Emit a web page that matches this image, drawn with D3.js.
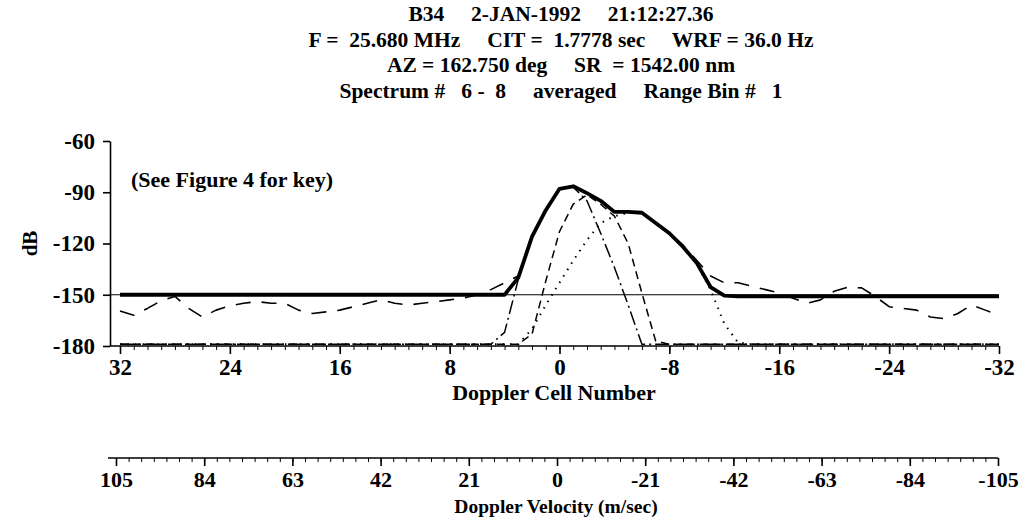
<!DOCTYPE html>
<html>
<head>
<meta charset="utf-8">
<script src="https://cdn.jsdelivr.net/npm/d3@7"></script>
<style>
  body { margin: 0; background: #fff; }
  svg text { font-family: "Liberation Serif", "Times New Roman", serif; font-weight: bold; fill: #000; }
</style>
</head>
<body>
<div id="chart"></div>
<script>
// title lines
const titleLines = [
  "B34     2-JAN-1992     21:12:27.36",
  "F =  25.680 MHz     CIT =  1.7778 sec     WRF = 36.0 Hz",
  "AZ = 162.750 deg     SR  = 1542.00 nm",
  "Spectrum #   6 -  8     averaged     Range Bin #   1"
]

// doppler cells, 32 .. -32
const cells = [32, 31, 30, 29, 28, 27, 26, 25, 24, 23, 22, 21, 20, 19, 18, 17, 16, 15, 14, 13, 12, 11, 10, 9, 8, 7, 6, 5, 4, 3, 2, 1,
  0, -1, -2, -3, -4, -5, -6, -7, -8, -9, -10, -11, -12, -13, -14, -15, -16, -17, -18, -19, -20, -21, -22, -23, -24, -25, -26, -27, -28, -29, -30, -31, -32]

// thick solid
const total = [-150, -150, -150, -150, -150, -150, -150, -150, -150, -150, -150, -150, -150, -150, -150, -150, -150, -150, -150, -150,
  -150, -150, -150, -150, -150, -150, -150, -150, -150,
  -140, -116, -100.5, -88, -86.5, -90.5, -95, -101.5, -101.5, -102, -108, -114, -122, -131.5, -145.5, -150.5,
  -151, -151, -151, -151, -151, -151, -151, -151, -151, -151, -151, -151, -151, -151, -151, -151, -151, -151, -151, -151]

// long dash (noisy)
const noisy = [-159.5, -162, -158, -153.5, -151, -158, -163, -159, -156.5, -155, -154, -155, -155, -159, -161, -160, -159, -157, -155, -153,
  -155, -156, -155, -154, -153, -152, -150, -147, -143,
  -139, -116, -100.5, -88, -86.5, -90.5, -95, -101.5, -101.5, -102, -108, -114, -121, -130,
  -139, -143, -143, -145, -147, -149, -152, -155, -153, -148, -145.5, -146, -151, -157, -158, -159, -163, -164, -161, -156, -159, -162]

// medium dash
const compA = [-179, -179, -179, -179, -179, -179, -179, -179, -179, -179, -179, -179, -179, -179, -179, -179, -179, -179, -179, -179,
  -179, -179, -179, -179, -179, -179, -179, -179, -179, -179,
  -173, -142, -113, -97, -91.5, -97, -104, -120, -149, -177,
  -179, -179, -179, -179, -179, -179, -179, -179, -179, -179, -179, -179, -179, -179, -179, -179, -179, -179, -179, -179, -179, -179, -179, -179, -179]

// dash-dot
const compB = [-179, -179, -179, -179, -179, -179, -179, -179, -179, -179, -179, -179, -179, -179, -179, -179, -179, -179, -179, -179,
  -179, -179, -179, -179, -179, -179, -179, -179,
  -172, -141, -116, -100.5, -88, -87, -95, -114, -134, -156, -179,
  -179, -179, -179, -179, -179, -179, -179, -179, -179, -179, -179, -179, -179, -179, -179, -179, -179, -179, -179, -179, -179, -179, -179, -179, -179, -179]

// dotted
const compC = [-179, -179, -179, -179, -179, -179, -179, -179, -179, -179, -179, -179, -179, -179, -179, -179, -179, -179, -179, -179,
  -179, -179, -179, -179, -179, -179, -179, -179, -179, -179,
  -170, -156, -143, -130, -118, -108, -104, -102, -102, -108, -114, -122, -132, -147, -167, -178,
  -179, -179, -179, -179, -179, -179, -179, -179, -179, -179, -179, -179, -179, -179, -179, -179, -179, -179, -179]

const dbTicks = [-60, -90, -120, -150, -180]
const cellTicks = [32, 24, 16, 8, 0, -8, -16, -24, -32]
const velTicks = [105, 84, 63, 42, 21, 0, -21, -42, -63, -84, -105]
const velMinor = [105, 102, 99, 96, 93, 90, 87, 84, 81, 78, 75, 72, 69, 66, 63, 60, 57, 54, 51, 48, 45, 42, 39, 36, 33, 30, 27, 24, 21, 18, 15, 12, 9, 6, 3,
  0, -3, -6, -9, -12, -15, -18, -21, -24, -27, -30, -33, -36, -39, -42, -45, -48, -51, -54, -57, -60, -63, -66, -69, -72, -75, -78, -81, -84, -87, -90, -93, -96, -99, -102, -105]

const W = 1021, H = 523
const svg = d3.select("#chart").append("svg").attr("width", W).attr("height", H)

const axisX = 110
const x = d3.scaleLinear().domain([32, -32]).range([120, 999])
const y = d3.scaleLinear().domain([-180, -60]).range([346, 141])
const xv = d3.scaleLinear().domain([105, -105]).range([116, 998])

const signed = d => (d < 0 ? "-" : "") + Math.abs(d)

// titles
svg.append("g")
  .selectAll("text")
  .data(titleLines)
  .join("text")
  .attr("x", 561)
  .attr("y", (d, i) => 21 + i * 25.5)
  .attr("text-anchor", "middle")
  .style("font-size", "21.5px")
  .style("white-space", "pre")
  .text(d => d)

// y axis
let yAxis = svg.append("g")
  .attr("transform", `translate(${axisX},0)`)
  .call(d3.axisLeft(y).tickValues(dbTicks).tickSize(7).tickSizeOuter(0).tickFormat(signed))
yAxis.select(".domain").attr("stroke-width", 1.6)
yAxis.selectAll(".tick line").attr("stroke-width", 1.6)
yAxis.selectAll(".tick text").attr("x", -15).style("font-size", "23px")

svg.append("text")
  .attr("transform", `translate(37,${y(-120)}) rotate(-90)`)
  .attr("text-anchor", "middle")
  .style("font-size", "21px")
  .text("dB")

// cell axis
let xg = svg.append("g").attr("transform", `translate(0,${y(-180)})`)
xg.append("line")
  .attr("x1", axisX).attr("x2", x(-32))
  .attr("stroke", "#000").attr("stroke-width", 1.6)
xg.append("g")
  .call(d3.axisBottom(x).tickValues(cells).tickSize(4).tickFormat(""))
  .call(g => g.select(".domain").remove())
let xMajor = xg.append("g")
  .call(d3.axisBottom(x).tickValues(cellTicks).tickSize(8).tickFormat(signed))
xMajor.select(".domain").remove()
xMajor.selectAll(".tick line").attr("stroke-width", 1.6)
xMajor.selectAll(".tick text").attr("y", 13).style("font-size", "23px")

svg.append("text")
  .attr("x", 554).attr("y", 400)
  .attr("text-anchor", "middle")
  .style("font-size", "22px")
  .text("Doppler Cell Number")

// key note
svg.append("text")
  .attr("x", 131).attr("y", 187)
  .style("font-size", "22px")
  .text("(See Figure 4 for key)")

// reference line at -150
svg.append("line")
  .attr("x1", axisX).attr("x2", x(-32))
  .attr("y1", y(-150)).attr("y2", y(-150))
  .attr("stroke", "#000").attr("stroke-width", 1.1)

const line = d3.line().x((d, i) => x(cells[i])).y(d => y(d))

const series = [
  { name: "noisy", values: noisy, width: 1.6, dash: "15,11" },
  { name: "compA", values: compA, width: 1.5, dash: "8,5" },
  { name: "compB", values: compB, width: 1.5, dash: "14,4,2,4" },
  { name: "compC", values: compC, width: 2, dash: "1.5,6" },
  { name: "total", values: total, width: 3.8, dash: null }
]

svg.append("g")
  .selectAll("path")
  .data(series)
  .join("path")
  .attr("d", d => line(d.values))
  .attr("fill", "none")
  .attr("stroke", "#000")
  .attr("stroke-width", d => d.width)
  .attr("stroke-dasharray", d => d.dash)
  .attr("stroke-linejoin", "round")

// velocity axis
let vg = svg.append("g").attr("transform", "translate(0,458)")
vg.append("line")
  .attr("x1", 108).attr("x2", xv(-105))
  .attr("stroke", "#000").attr("stroke-width", 1.6)
vg.append("g")
  .call(d3.axisBottom(xv).tickValues(velMinor).tickSize(4).tickFormat(""))
  .call(g => g.select(".domain").remove())
let vMajor = vg.append("g")
  .call(d3.axisBottom(xv).tickValues(velTicks).tickSize(8).tickFormat(signed))
vMajor.select(".domain").remove()
vMajor.selectAll(".tick line").attr("stroke-width", 1.6)
vMajor.selectAll(".tick text").attr("y", 13).style("font-size", "22px")

svg.append("text")
  .attr("x", 556).attr("y", 513)
  .attr("text-anchor", "middle")
  .style("font-size", "19.5px")
  .text("Doppler Velocity (m/sec)")
</script>
</body>
</html>
